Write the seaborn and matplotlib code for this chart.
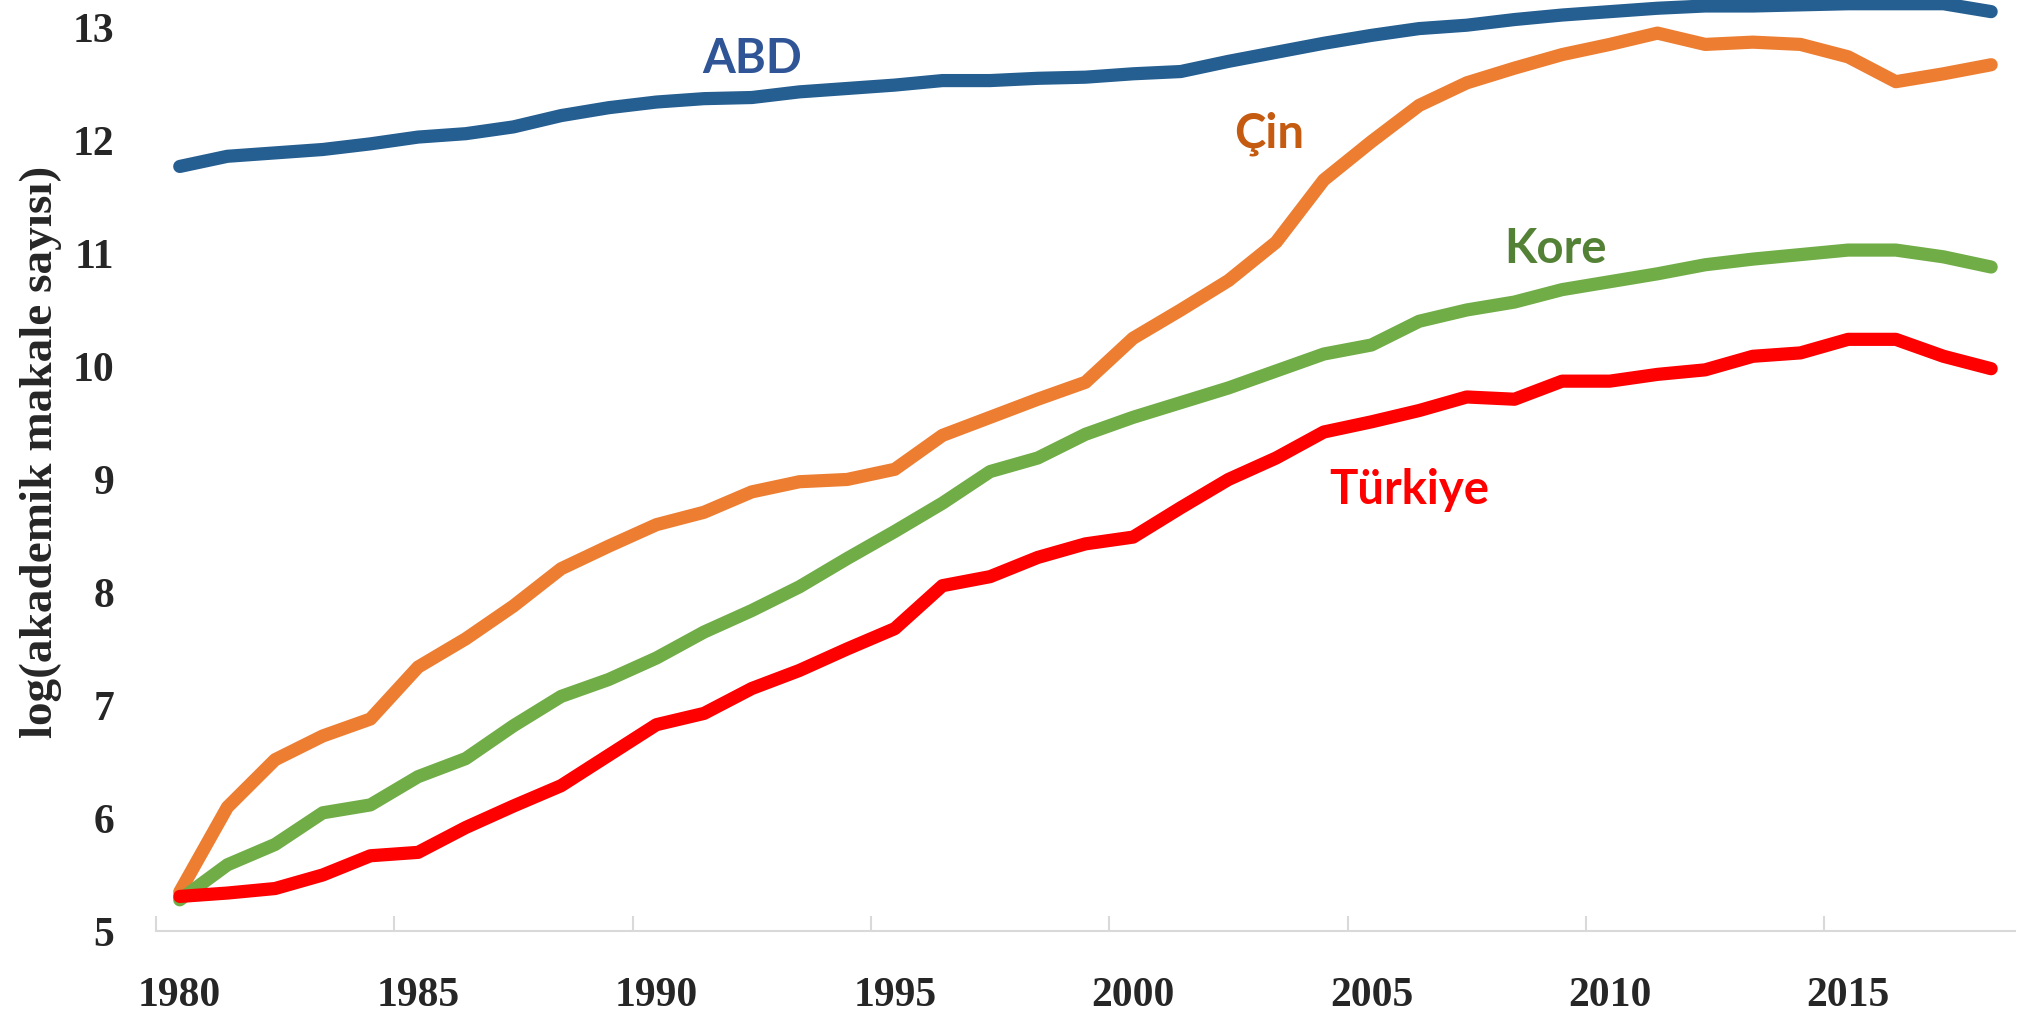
import matplotlib
matplotlib.use("Agg")
import matplotlib.pyplot as plt
import pandas as pd
import seaborn as sns

# log(number of academic papers)
years = list(range(1980, 2019))
abd = [11.77, 11.86, 11.89, 11.92, 11.97, 12.03, 12.06, 12.12, 12.22, 12.29,
       12.34, 12.37, 12.38, 12.43, 12.46, 12.49, 12.53, 12.53, 12.55, 12.56,
       12.59, 12.61, 12.70, 12.78, 12.86, 12.93, 12.99, 13.02, 13.07, 13.11,
       13.14, 13.17, 13.19, 13.19, 13.20, 13.21, 13.21, 13.21, 13.14]
cin = [5.35, 6.10, 6.52, 6.73, 6.88, 7.34, 7.59, 7.88, 8.21, 8.41,
       8.60, 8.71, 8.89, 8.98, 9.00, 9.09, 9.39, 9.55, 9.71, 9.86,
       10.25, 10.50, 10.76, 11.10, 11.65, 11.99, 12.31, 12.51, 12.64, 12.76,
       12.85, 12.95, 12.85, 12.87, 12.85, 12.74, 12.52, 12.59, 12.67]
kore = [5.28, 5.59, 5.77, 6.05, 6.12, 6.37, 6.53, 6.82, 7.08, 7.23,
        7.42, 7.65, 7.84, 8.05, 8.30, 8.54, 8.79, 9.07, 9.19, 9.40,
        9.55, 9.68, 9.81, 9.96, 10.11, 10.19, 10.40, 10.50, 10.57, 10.68,
        10.75, 10.82, 10.90, 10.95, 10.99, 11.03, 11.03, 10.97, 10.88]
turkiye = [5.31, 5.34, 5.38, 5.50, 5.67, 5.70, 5.92, 6.11, 6.29, 6.56,
           6.83, 6.93, 7.15, 7.31, 7.50, 7.68, 8.06, 8.14, 8.31, 8.43,
           8.49, 8.75, 9.00, 9.19, 9.42, 9.51, 9.61, 9.73, 9.71, 9.87,
           9.87, 9.93, 9.97, 10.09, 10.12, 10.24, 10.24, 10.09, 9.98]

countries = ["ABD", "Çin", "Kore", "Türkiye"]
line_colors = {"ABD": "#255E91", "Çin": "#ED7D31", "Kore": "#70AD47", "Türkiye": "#FF0000"}
label_colors = {"ABD": "#2F5597", "Çin": "#C55A11", "Kore": "#538135", "Türkiye": "#FF0000"}
# where each country name sits (year, value)
label_pos = {"ABD": (1992.0, 12.60), "Çin": (2002.85, 11.94),
             "Kore": (2008.87, 10.92), "Türkiye": (2005.8, 8.78)}

year_labels = list(range(1980, 2016, 5))
y_ticks = list(range(5, 14))

sns.set_theme(style="white")
plt.rcParams["font.family"] = ["Liberation Serif", "DejaVu Serif"]

df = pd.DataFrame({
    "year": years * 4,
    "value": abd + cin + kore + turkiye,
    "country": [c for c in countries for _ in years],
})

fig = plt.figure(figsize=(20.17, 10.15), dpi=100)
ax = fig.add_axes([0.0773, 0.0823, 0.9217, 0.9177])

sns.lineplot(data=df, x="year", y="value", hue="country", hue_order=countries,
             palette=line_colors, linewidth=9.5, legend=False, ax=ax,
             solid_capstyle="round", clip_on=False)

for name in countries:
    x, y = label_pos[name]
    ax.text(x, y, name, color=label_colors[name], fontsize=34, fontweight="bold",
            family=["Lato", "DejaVu Sans"], ha="center", va="baseline")

ax.set_xlim(1979.5, 2018.5)
ax.set_ylim(5, 13.243)

# category-style axis: tick marks between years, labels under the years
ax.set_xticks([y - 0.5 for y in year_labels])
ax.set_xticklabels([])
ax.tick_params(axis="x", which="major", direction="in", length=11, width=1.5,
               color="#D9D9D9", bottom=True)
ax.set_xticks(year_labels, minor=True)
ax.set_xticklabels([str(y) for y in year_labels], minor=True)
ax.tick_params(axis="x", which="minor", length=0, pad=33, labelsize=30)

ax.set_yticks(y_ticks)
ax.set_yticklabels([str(v) for v in y_ticks])
ax.tick_params(axis="y", length=0, pad=30, labelsize=30)
for lab in ax.get_xticklabels(minor=True) + ax.get_yticklabels():
    lab.set_fontweight("bold")

ax.set_xlabel("")
ax.set_ylabel("log(akademik makale sayısı)", fontsize=34, fontweight="bold")
ax.yaxis.set_label_coords(-0.0506, 0.515)

for side in ["top", "right", "left"]:
    ax.spines[side].set_visible(False)
ax.spines["bottom"].set_color("#D9D9D9")
ax.spines["bottom"].set_linewidth(1.5)
ax.grid(False)

fig.savefig("out.png", dpi=100)
plt.close(fig)
